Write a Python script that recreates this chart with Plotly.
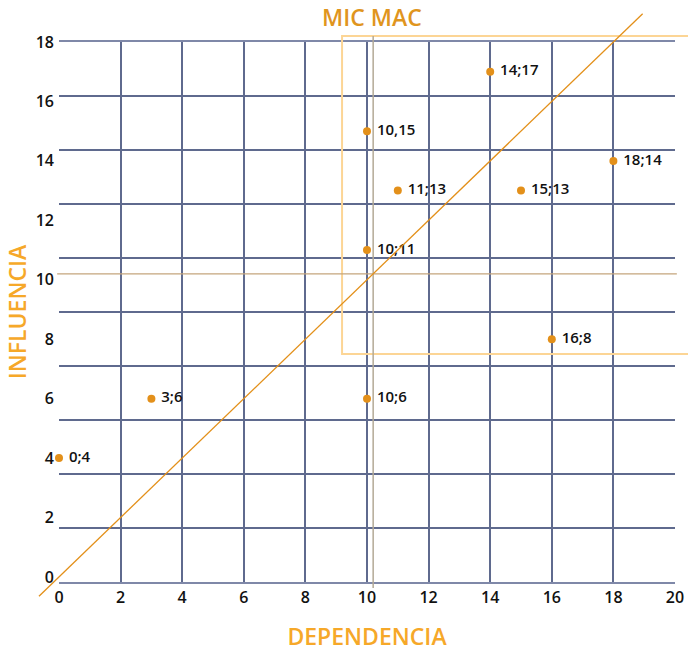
import plotly.graph_objects as go

# ---- data ----
x_dep = [0, 3, 10, 16, 10, 11, 10, 14, 15, 18]
y_inf = [4, 6, 6, 8, 11, 13, 15, 17, 13, 14]
point_labels = ["0;4", "3;6", "10;6", "16;8", "10;11", "11;13", "10,15", "14;17", "15;13", "18;14"]
x_ticks = [0, 2, 4, 6, 8, 10, 12, 14, 16, 18, 20]
y_ticks = [0, 2, 4, 6, 8, 10, 12, 14, 16, 18]
mean_x = 10.2
mean_y = 10.2
diag_span = [-0.65, 18.95]          # y = x reference line
zone_x = [9.19, 21.0]               # highlighted zone
zone_y = [7.5, 18.2]

X_RANGE = [0, 20]
Y_RANGE = [-0.17, 18.0]

GRID = "#5f6a8e"
ORANGE_PT = "#e3901a"
TITLE_C = "#e0951e"
AXT_C = "#f6a829"
FONT = "Open Sans"


def fx(v):
    return (v - X_RANGE[0]) / (X_RANGE[1] - X_RANGE[0])


def fy(v):
    return (v - Y_RANGE[0]) / (Y_RANGE[1] - Y_RANGE[0])


fig = go.Figure()

fig.add_trace(go.Scatter(
    x=x_dep, y=y_inf, mode="markers+text",
    text=[" " + t for t in point_labels], textposition="middle right",
    textfont=dict(family=FONT, size=15, color="#111111", weight=600),
    marker=dict(size=8, color=ORANGE_PT),
    cliponaxis=False, showlegend=False, hoverinfo="skip",
))
# invisible trace to activate the grid axis
fig.add_trace(go.Scatter(x=[None], y=[None], yaxis="y2", showlegend=False))

shapes = [
    # highlighted zone
    dict(type="rect", xref="x domain", yref="y domain",
         x0=fx(zone_x[0]), x1=fx(zone_x[1]), y0=fy(zone_y[0]), y1=fy(zone_y[1]),
         line=dict(color="#fcd595", width=2), layer="above"),
    # mean lines
    dict(type="line", xref="x domain", yref="y domain",
         x0=fx(mean_x), x1=fx(mean_x), y0=fy(-0.37), y1=fy(18.2),
         line=dict(color="#b3a996", width=1.5), layer="above"),
    dict(type="line", xref="x domain", yref="y domain",
         x0=fx(-0.06), x1=fx(20.06), y0=fy(mean_y), y1=fy(mean_y),
         line=dict(color="#c4a57c", width=1.2), layer="above"),
    # diagonal
    dict(type="line", xref="x domain", yref="y domain",
         x0=fx(diag_span[0]), x1=fx(diag_span[1]), y0=fy(diag_span[0]), y1=fy(diag_span[1]),
         line=dict(color="#e3901a", width=1.3), layer="above"),
]

fig.update_layout(
    width=688, height=652,
    margin=dict(l=59, r=13, t=42, b=70, autoexpand=False),
    paper_bgcolor="white", plot_bgcolor="white",
    font=dict(family=FONT, color="#111111"),
    shapes=shapes,
    xaxis=dict(range=X_RANGE, tickvals=x_ticks, showgrid=True, gridcolor=GRID, gridwidth=2,
               zeroline=False, showline=True, mirror=True, linecolor="#7f88a8", linewidth=2,
               tickfont=dict(size=16, color="#111111", weight=600), ticks="", ticklen=0,
               automargin=False,
               title=dict(text="DEPENDENCIA", font=dict(size=23, color=AXT_C, weight=600), standoff=28)),
    yaxis=dict(range=Y_RANGE, tickvals=y_ticks, showgrid=False, zeroline=False,
               showline=False, tickfont=dict(size=16, color="#111111", weight=600), ticks="",
               ticklabelstandoff=4, automargin=False,
               title=dict(text="INFLUENCIA", font=dict(size=23, color=AXT_C, weight=600), standoff=2)),
    yaxis2=dict(range=[0, 10], dtick=1, overlaying="y", side="left", showgrid=True,
                gridcolor=GRID, gridwidth=2, showticklabels=False, zeroline=False,
                showline=False, ticks="", automargin=False),
    title=dict(text="MIC MAC", x=0.508, xref="paper", y=0.973, yref="container",
               xanchor="center", yanchor="middle",
               font=dict(family=FONT, size=23, color=TITLE_C, weight=600)),
)

fig.write_html("out.html", config={"displayModeBar": False},
               post_script="document.body.style.margin='0';document.body.style.padding='0';")
